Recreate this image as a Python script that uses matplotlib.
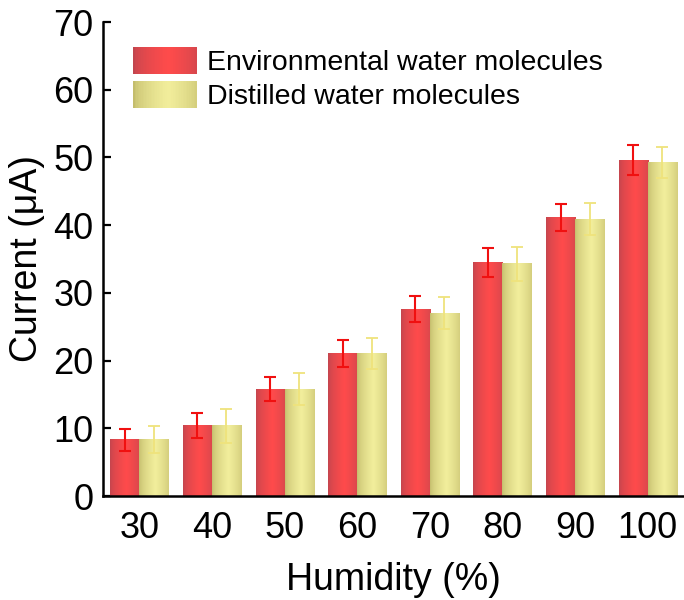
import numpy as np
import matplotlib
matplotlib.use('Agg')
import matplotlib.pyplot as plt
from matplotlib.colors import to_rgb
from matplotlib.patches import Rectangle
from matplotlib.legend_handler import HandlerBase

# humidity levels and measured current (uA) with error bars
humidity = ['30', '40', '50', '60', '70', '80', '90', '100']
env_current = [8.3, 10.4, 15.8, 21.1, 27.6, 34.5, 41.1, 49.6]
env_err = [1.6, 1.8, 1.8, 2.0, 1.9, 2.1, 2.0, 2.2]
dist_current = [8.3, 10.4, 15.8, 21.1, 27.0, 34.3, 40.9, 49.2]
dist_err = [2.0, 2.5, 2.3, 2.3, 2.4, 2.5, 2.3, 2.3]

plt.rcParams['font.family'] = ['Liberation Sans', 'DejaVu Sans']

RED_DARK, RED_BRIGHT = '#C2454E', '#FF4B4B'
YEL_DARK, YEL_BRIGHT = '#C4BD6C', '#F2EE9C'


def gradient(dark, bright, n=64):
    """horizontal shading: dark edges, bright band a bit right of centre"""
    t = np.linspace(0, 1, n)
    w = np.clip(1 - np.abs(t - 0.55) / 0.55, 0, 1) ** 0.6
    d, b = np.array(to_rgb(dark)), np.array(to_rgb(bright))
    return d[None, :] + (b - d)[None, :] * w[:, None]


class GradientHandler(HandlerBase):
    def __init__(self, dark, bright):
        super().__init__()
        self.dark, self.bright = dark, bright

    def create_artists(self, legend, orig_handle, xdescent, ydescent,
                       width, height, fontsize, trans):
        n = 40
        cols = gradient(self.dark, self.bright, n)
        arts = []
        for i, c in enumerate(cols):
            r = Rectangle((-xdescent + width * i / n, -ydescent), width / n * 1.05, height,
                          facecolor=c, edgecolor='none', transform=trans)
            arts.append(r)
        return arts


fig = plt.figure(figsize=(6.84, 6.0), dpi=100)
ax = fig.add_axes([103 / 684, 1 - 496 / 600, (684 - 103) / 684, (496 - 22) / 600])

x = np.arange(len(humidity))
bw = 0.4

bars_env = ax.bar(x - bw / 2, env_current, bw, facecolor='none', edgecolor='none')
bars_dist = ax.bar(x + bw / 2, dist_current, bw, facecolor='none', edgecolor='none')

# fill each bar with a shaded image
for bars, dark, bright in [(bars_env, RED_DARK, RED_BRIGHT), (bars_dist, YEL_DARK, YEL_BRIGHT)]:
    img = gradient(dark, bright)[None, :, :]
    for p in bars:
        x0, w, h = p.get_x(), p.get_width(), p.get_height()
        ax.imshow(img, extent=[x0, x0 + w, 0, h], aspect='auto',
                  interpolation='bilinear', zorder=2)

ax.errorbar(x + bw / 2, dist_current, yerr=dist_err, fmt='none', ecolor='#EFE37C',
            elinewidth=1.3, capsize=4, capthick=1.3, zorder=3)
ax.errorbar(x - bw / 2, env_current, yerr=env_err, fmt='none', ecolor='#F01010',
            elinewidth=1.5, capsize=4, capthick=1.5, zorder=4)

ax.set_xlim(-0.5, 7.5)
ax.set_ylim(0, 70)
ax.set_xticks(x)
ax.set_xticklabels(humidity)
ax.set_yticks(np.arange(0, 71, 10))

for s in ['top', 'right']:
    ax.spines[s].set_visible(False)
for s in ['left', 'bottom']:
    ax.spines[s].set_linewidth(1.8)

ax.tick_params(direction='in', length=6, width=1.6, labelsize=26, pad=7)
ax.tick_params(axis='x', pad=11)
ax.set_xlabel('Humidity (%)', fontsize=27, labelpad=11)
ax.set_ylabel('Current (μA)', fontsize=27, labelpad=6)

h_env = Rectangle((0, 0), 1, 1)
h_dist = Rectangle((0, 0), 1, 1)
ax.legend([h_env, h_dist], ['Environmental water molecules', 'Distilled water molecules'],
          handler_map={h_env: GradientHandler(RED_DARK, RED_BRIGHT),
                       h_dist: GradientHandler(YEL_DARK, YEL_BRIGHT)},
          loc='upper left', bbox_to_anchor=(133 / 684, 1 - 47 / 600),
          bbox_transform=fig.transFigure, frameon=False, fontsize=20.5,
          handlelength=2.25, handleheight=1.1, labelspacing=0.15,
          handletextpad=0.35, borderpad=0, borderaxespad=0)

fig.savefig('out.png', dpi=100)
